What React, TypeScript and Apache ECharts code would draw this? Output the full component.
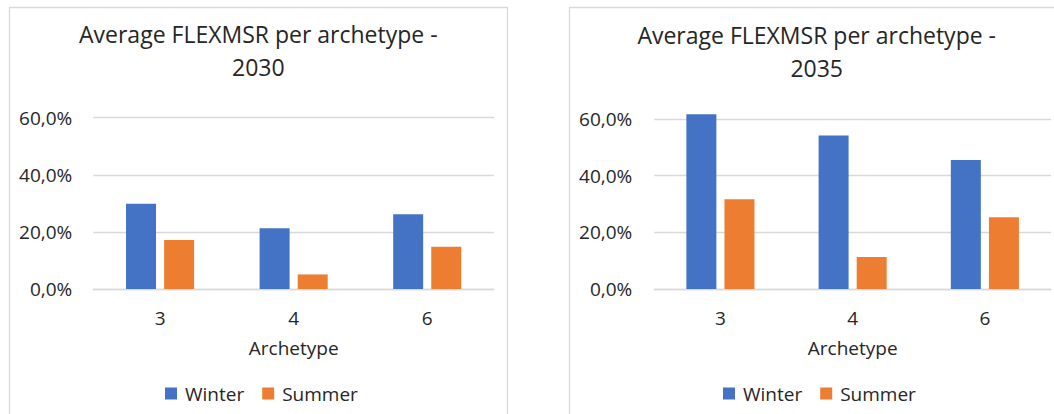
import React, { useEffect, useRef } from "react";
import * as echarts from "echarts";

const categories = ["3", "4", "6"];
const seriesNames = ["Winter", "Summer"];
const winter2030 = [0.299, 0.213, 0.262];
const summer2030 = [0.172, 0.051, 0.148];
const winter2035 = [0.617, 0.542, 0.455];
const summer2035 = [0.317, 0.113, 0.253];
const titleLine1 = "Average FLEXMSR per archetype -";
const years = ["2030", "2035"];
const xAxisName = "Archetype";

const FONT = "'Open Sans', sans-serif";
const TXT = "#262626";
const GRID_LINE = "#d9d9d9";
const BLUE = "#4472C4";
const ORANGE = "#ED7D31";

const fmt = (v: number) => (v * 100).toFixed(1).replace(".", ",") + "%";

export default function App() {
  const ref = useRef<HTMLDivElement>(null);
  useEffect(() => {
    if (!ref.current) return;
    const chart = echarts.init(ref.current, undefined, { renderer: "svg" });
    const grids = [
      { left: 93.3, top: 117.7, width: 400.7, height: 171.3 },
      { left: 654.3, top: 119, width: 396.7, height: 170 },
    ];
    const mkX = (i: number) => ({
      type: "category",
      gridIndex: i,
      data: categories,
      axisLine: { show: true, lineStyle: { color: GRID_LINE, width: 1.3 } },
      axisTick: { show: false },
      axisLabel: { color: TXT, fontSize: 19, fontFamily: FONT, margin: 19, lineHeight: 20 },
      name: xAxisName,
      nameLocation: "middle",
      nameGap: 49,
      nameTextStyle: { color: TXT, fontSize: 19, fontFamily: FONT, lineHeight: 20 },
    });
    const mkY = (i: number) => ({
      type: "value",
      gridIndex: i,
      min: 0,
      max: 0.6,
      interval: 0.2,
      axisLine: { show: false },
      axisTick: { show: false },
      splitLine: { lineStyle: { color: GRID_LINE, width: 1.3 } },
      axisLabel: { color: TXT, fontSize: 19, fontFamily: FONT, margin: i === 0 ? 21 : 22, formatter: fmt },
    });
    const mkBar = (name: string, data: number[], color: string, i: number) => ({
      type: "bar",
      name,
      xAxisIndex: i,
      yAxisIndex: i,
      data,
      clip: false,
      barWidth: 30,
      barGap: "27%",
      itemStyle: { color },
    });
    const legendBase = {
      data: seriesNames,
      itemWidth: 12,
      itemHeight: 12,
      itemGap: 18,
      padding: 0,
      icon: "rect",
      textStyle: { color: TXT, fontSize: 19, fontFamily: FONT, padding: [0, 0, 0, 3] },
    };
    const titleText = (x: number, y1: number, year: string) => [
      {
        type: "text",
        x,
        y: y1,
        style: { text: titleLine1, fontSize: 23, fontFamily: FONT, fill: TXT, align: "center", verticalAlign: "middle" },
      },
      {
        type: "text",
        x,
        y: y1 + 33,
        style: { text: year, fontSize: 23, fontFamily: FONT, fill: TXT, align: "center", verticalAlign: "middle" },
      },
    ];
    chart.setOption({
      animation: false,
      grid: grids,
      xAxis: [mkX(0), mkX(1)],
      yAxis: [mkY(0), mkY(1)],
      legend: [
        { ...legendBase, left: 165, top: 384 },
        { ...legendBase, left: 723, top: 384 },
      ],
      series: [
        mkBar(seriesNames[0], winter2030, BLUE, 0),
        mkBar(seriesNames[1], summer2030, ORANGE, 0),
        mkBar(seriesNames[0], winter2035, BLUE, 1),
        mkBar(seriesNames[1], summer2035, ORANGE, 1),
      ],
      graphic: [
        {
          type: "rect",
          shape: { x: 9.5, y: 7.5, width: 498, height: 420 },
          style: { fill: "none", stroke: GRID_LINE, lineWidth: 1.3 },
          silent: true,
        },
        {
          type: "rect",
          shape: { x: 569.5, y: 7.5, width: 500, height: 420 },
          style: { fill: "none", stroke: GRID_LINE, lineWidth: 1.3 },
          silent: true,
        },
        ...titleText(258.3, 34, years[0]),
        ...titleText(816.7, 35, years[1]),
      ],
    });
    return () => chart.dispose();
  }, []);
  return (
    <div
      ref={ref}
      style={{ position: "fixed", left: 0, top: 0, width: 1054, height: 414, background: "#fff" }}
    />
  );
}
